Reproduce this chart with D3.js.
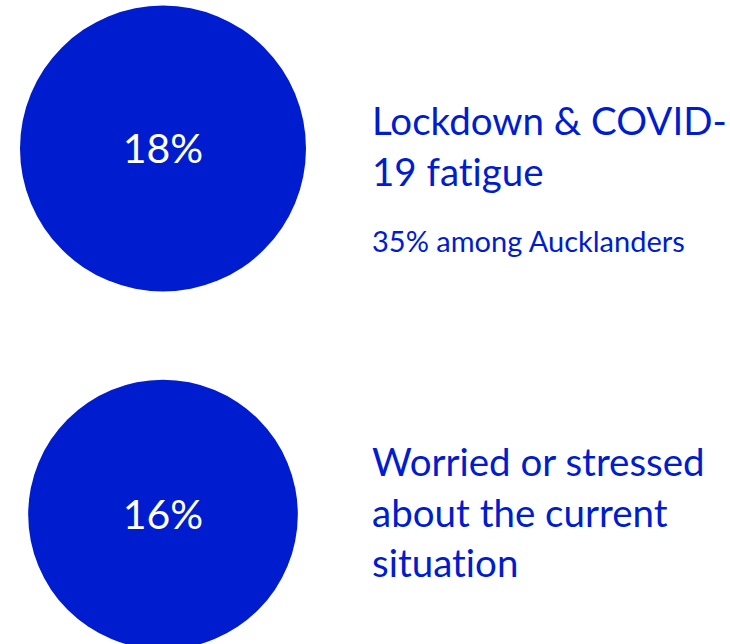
<!DOCTYPE html>
<html>
<head>
<meta charset="utf-8">
<script src="https://cdn.jsdelivr.net/npm/d3@7"></script>
<style>
  body { margin: 0; background: #fff; }
  svg { display: block; }
  text { font-variant-ligatures: none; }
</style>
</head>
<body>
<div id="chart"></div>
<script>
// Data
const items = ['fatigue', 'worried'];
const values = [18, 16];
const titles = [
    ['Lockdown & COVID-', '19 fatigue'],
    ['Worried or stressed', 'about the current', 'situation']
];
const notes = ['35% among Aucklanders', ''];

const width = 730;
const height = 644;
const blue = '#001ccf';
const font = 'Lato, "Open Sans", sans-serif';

const svg = d3.select('#chart')
    .append('svg')
    .attr('width', width)
    .attr('height', height);

// circle area follows the value
const r = d3.scaleSqrt()
    .domain([0, d3.max(values)])
    .range([0, 143]);

const y = d3.scalePoint()
    .domain(items)
    .range([148.5, 514.5]);

const cx = 163;
const textX = 372;
const lineH = 50.5;

const g = svg.selectAll('g.item')
    .data(items)
    .enter()
    .append('g')
    .attr('class', 'item')
    .attr('transform', d => `translate(0,${y(d)})`);

g.append('circle')
    .attr('cx', cx)
    .attr('cy', 0)
    .attr('r', (d, i) => r(values[i]))
    .style('fill', blue);

g.append('text')
    .attr('x', cx)
    .attr('y', 0)
    .attr('dy', '0.36em')
    .attr('text-anchor', 'middle')
    .style('font-family', font)
    .style('font-size', '41px')
    .style('fill', '#fff')
    .text((d, i) => values[i] + '%');

// titles, centred on the circle
g.each(function (d, i) {
    const lines = titles[i];
    const top = -(lines.length - 1) * lineH / 2 + 12;
    const t = d3.select(this);
    t.selectAll('text.title')
        .data(lines)
        .enter()
        .append('text')
        .attr('class', 'title')
        .attr('x', textX)
        .attr('y', (l, j) => top + j * lineH)
        .style('font-family', font)
        .style('font-size', '38.5px')
        .style('fill', blue)
        .text(l => l);
    if (notes[i]) {
        t.append('text')
            .attr('x', textX)
            .attr('y', top + (lines.length - 1) * lineH + 66)
            .style('font-family', font)
            .style('font-size', '29px')
            .style('fill', blue)
            .text(notes[i]);
    }
});
</script>
</body>
</html>
